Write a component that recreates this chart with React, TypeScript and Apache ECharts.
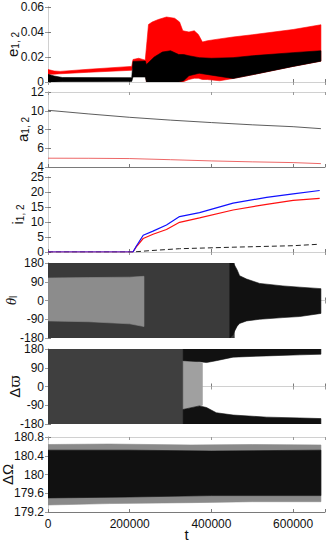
import React, { useEffect, useRef } from 'react';
import * as echarts from 'echarts';

const T_MAX = 678000;
const xTickValues = [0, 200000, 400000, 600000];

// Panel 1 – eccentricity envelopes [t, low, high]
const eRedBand = [
  [0, 0.0062, 0.0100], [15000, 0.0063, 0.0088], [30000, 0.0066, 0.0085],
  [100000, 0.0078, 0.0102], [205000, 0.0094, 0.0125], [208000, 0.0125, 0.0180],
  [222000, 0.0125, 0.0190], [238000, 0.0120, 0.0175], [241000, 0, 0.028],
  [246000, 0, 0.046], [255000, 0, 0.048], [270000, 0, 0.050], [290000, 0, 0.052],
  [310000, 0, 0.051], [322000, 0, 0.048], [330000, 0, 0.041], [345000, 0.002, 0.040],
  [358000, 0.003, 0.041], [368000, 0.003, 0.038], [378000, 0.002, 0.032],
  [390000, 0.002, 0.033], [420000, 0.001, 0.0345], [453000, 0.0028, 0.036],
  [500000, 0.0058, 0.0378], [600000, 0.0125, 0.042], [668000, 0.0167, 0.0458],
];
const eBlackBand = [
  [0, 0, 0.0062], [15000, 0, 0.0048], [35000, 0.0003, 0.0036], [205000, 0.0005, 0.0035],
  [208000, 0.004, 0.0165], [238000, 0.004, 0.0168], [241000, 0, 0.014], [260000, 0, 0.020],
  [280000, 0, 0.024], [300000, 0, 0.025], [320000, 0, 0.022], [332000, 0.001, 0.022],
  [345000, 0.005, 0.021], [370000, 0.007, 0.0195], [400000, 0.0055, 0.019],
  [453000, 0.0028, 0.0195], [500000, 0.0058, 0.021], [600000, 0.0125, 0.0235],
  [668000, 0.0167, 0.025],
];

// Panel 2 – semi-major axes
const aOuter = [[0, 10.05], [100000, 9.66], [200000, 9.3], [300000, 9.0], [400000, 8.74], [500000, 8.5], [600000, 8.3], [668000, 8.09]];
const aInner = [[0, 4.94], [100000, 4.93], [200000, 4.9], [300000, 4.78], [400000, 4.65], [500000, 4.55], [600000, 4.47], [668000, 4.36]];

// Panel 3 – inclinations
const iBlue = [[0, 0], [208000, 0], [216000, 1.9], [233000, 5.6], [257000, 6.95], [290000, 9.0], [322000, 11.8], [371000, 13.1], [453000, 16.3], [535000, 18.2], [600000, 19.4], [665000, 20.5]];
const iRed = [[0, 0], [208000, 0], [216000, 1.7], [233000, 4.5], [257000, 5.9], [290000, 7.5], [322000, 9.9], [371000, 11.4], [453000, 14.0], [535000, 15.9], [600000, 17.2], [665000, 17.9]];
const iMutual = [[0, 0], [208000, 0], [249000, 0.45], [322000, 1.1], [453000, 1.6], [600000, 2.1], [665000, 2.6]];

// Panel 4 – resonant angle cloud
const thetaMixed = [[0, -180, 180], [456000, -180, 180]];
const thetaSparse = [[0, -98, 108], [100000, -102, 110], [200000, -112, 112], [235000, -125, 116]];
const thetaDense = [[445000, -180, 180], [453000, -164, 180], [456000, -150, 172], [463000, -123, 147], [469000, -110, 119], [486000, -98, 103], [518000, -90, 82], [575000, -82, 70], [616000, -77, 64], [668000, -62, 57]];

// Panel 5 – Δϖ cloud
const varpiMixed = [[0, -180, 180], [333000, -180, 180]];
const varpiTop = [[331000, 124, 180], [371000, 119, 180], [388000, 115, 180], [412000, 124, 180], [453000, 141, 180], [535000, 147, 180], [616000, 152, 180], [668000, 155, 180]];
const varpiBottom = [[331000, -180, -110], [371000, -180, -93], [388000, -180, -101], [412000, -180, -126], [453000, -180, -137], [535000, -180, -147], [616000, -180, -151], [668000, -180, -154]];
const varpiScatter = [[331000, -110, 124], [360000, -98, 120], [378000, -90, 112]];

// Panel 6 – ΔΩ
const omegaFringe = [[0, 179.35, 180.64], [150000, 179.38, 180.65], [350000, 179.4, 180.63], [500000, 179.42, 180.64], [668000, 179.42, 180.63]];
const omegaCore = [[0, 179.5, 180.52], [200000, 179.52, 180.52], [400000, 179.55, 180.5], [668000, 179.55, 180.52]];

const gridTops = [7, 92, 177, 263, 349, 437];
const yRanges = [
  { min: 0, max: 0.06, interval: 0.02 },
  { min: 4, max: 12, interval: 2 },
  { min: 0, max: 25, interval: 5 },
  { min: -180, max: 180, interval: 90 },
  { min: -180, max: 180, interval: 90 },
  { min: 179.2, max: 180.8, interval: 0.4 },
];
const yNames = ['{m|e}{s|1, 2}', '{m|a}{s|1, 2}', '{m|i}{s|1, 2}', '{g|θ}{s|l}', '{m|Δ}{v|ϖ}', '{m|ΔΩ}'];
const yNameGaps = [28, 18, 23, 30, 26, 33];

const FONT = 'Liberation Sans, Arial, DejaVu Sans, sans-serif';

function band(panel: number, pts: number[][], color: string) {
  return {
    type: 'custom',
    xAxisIndex: panel * 2,
    yAxisIndex: panel * 2,
    data: pts,
    silent: true,
    clip: true,
    renderItem: (params: any, api: any) => {
      if (params.dataIndex !== 0) return null;
      const upper = pts.map((p) => api.coord([p[0], p[2]]));
      const lower = pts.map((p) => api.coord([p[0], p[1]])).reverse();
      return {
        type: 'polygon',
        shape: { points: upper.concat(lower) },
        style: { fill: color, stroke: color, lineWidth: 0.6 },
      };
    },
  };
}

function line(panel: number, pts: number[][], color: string, width: number, dashed = false) {
  return {
    type: 'line',
    xAxisIndex: panel * 2,
    yAxisIndex: panel * 2,
    data: pts,
    showSymbol: false,
    silent: true,
    lineStyle: { color, width, type: dashed ? [5, 3] : 'solid' },
  };
}

export default function App() {
  const ref = useRef<HTMLDivElement>(null);
  useEffect(() => {
    if (!ref.current) return;
    const chart = echarts.init(ref.current, undefined, { renderer: 'svg' });
    const grids: any[] = [];
    const xAxes: any[] = [];
    const yAxes: any[] = [];
    for (let p = 0; p < 6; p++) {
      grids.push({ left: 48, right: 2, top: gridTops[p], height: 75, containLabel: false, outerBoundsMode: 'none' });
      const baseX = {
        type: 'value', gridIndex: p, min: 0, max: T_MAX, interval: 200000,
        splitLine: { show: false },
      };
      xAxes.push({
        ...baseX, position: 'bottom',
        axisLine: { show: true, lineStyle: { color: '#7a7a7a', width: 1 } },
        axisTick: { show: true, inside: true, length: 3, lineStyle: { color: '#7a7a7a' } },
        axisLabel: {
          show: p === 5, fontSize: 12, lineHeight: 12, color: '#111', fontFamily: FONT, margin: 6,
          formatter: (v: number) => (xTickValues.includes(v) ? String(v) : ''),
        },
        name: p === 5 ? 't' : '',
        nameLocation: 'middle', nameGap: 15, nameMoveOverlap: false,
        nameTextStyle: { fontSize: 15, lineHeight: 14, color: '#111', fontFamily: FONT },
      });
      xAxes.push({
        ...baseX, position: 'top',
        axisLine: { show: true, lineStyle: { color: '#d0d0d0', width: 1 } },
        axisTick: { show: true, inside: true, length: 3, lineStyle: { color: '#9a9a9a' } },
        axisLabel: { show: false },
      });
      const r = yRanges[p];
      yAxes.push({
        type: 'value', gridIndex: p, position: 'left', ...r,
        splitLine: { show: false },
        axisLine: { show: true, lineStyle: { color: '#7a7a7a', width: 1 } },
        axisTick: { show: true, inside: true, length: 3, lineStyle: { color: '#7a7a7a' } },
        axisLabel: { fontSize: 12, lineHeight: 9, color: '#111', fontFamily: FONT, margin: 4 },
        name: yNames[p], nameLocation: 'middle', nameRotate: 90, nameGap: yNameGaps[p],
        nameMoveOverlap: false,
        nameTextStyle: {
          fontFamily: FONT, color: '#111',
          rich: {
            m: { fontSize: 15, lineHeight: 15, verticalAlign: 'top', fontFamily: FONT, color: '#111' },
            g: { fontSize: 15, lineHeight: 15, verticalAlign: 'top', fontStyle: 'italic', fontFamily: 'Liberation Serif, DejaVu Serif, serif', color: '#111' },
            v: { fontSize: 15, lineHeight: 15, verticalAlign: 'top', fontFamily: 'DejaVu Serif, serif', color: '#111' },
            s: { fontSize: 10, lineHeight: 10, verticalAlign: 'bottom', padding: [8, 0, 0, 0], fontFamily: FONT, color: '#111' },
          },
        },
      });
      yAxes.push({
        type: 'value', gridIndex: p, position: 'right', ...r,
        splitLine: { show: false },
        axisLine: { show: true, lineStyle: { color: '#d0d0d0', width: 1 } },
        axisTick: { show: true, inside: true, length: 3, lineStyle: { color: '#9a9a9a' } },
        axisLabel: { show: false },
      });
    }
    const series: any[] = [
      band(0, eRedBand, '#ff0000'),
      band(0, eBlackBand, '#000000'),
      line(1, aOuter, '#333333', 0.8),
      line(1, aInner, '#e84040', 0.8),
      line(2, iMutual, '#222222', 1, true),
      line(2, iRed, '#ff1010', 1.2),
      line(2, iBlue, '#1010ff', 1.2),
      band(3, thetaMixed, '#3a3a3a'),
      band(3, thetaSparse, '#8c8c8c'),
      band(3, thetaDense, '#111111'),
      band(4, varpiMixed, '#3f3f3f'),
      band(4, varpiScatter, '#a0a0a0'),
      band(4, varpiTop, '#111111'),
      band(4, varpiBottom, '#111111'),
      band(5, omegaFringe, '#8a8a8a'),
      band(5, omegaCore, '#111111'),
    ];
    chart.setOption({
      animation: false,
      backgroundColor: '#ffffff',
      textStyle: { fontFamily: FONT },
      grid: grids,
      xAxis: xAxes,
      yAxis: yAxes,
      series,
    });
    return () => chart.dispose();
  }, []);
  return (
    <div
      ref={ref}
      style={{ position: 'fixed', left: 0, top: 0, width: 327, height: 545, background: '#fff' }}
    />
  );
}
